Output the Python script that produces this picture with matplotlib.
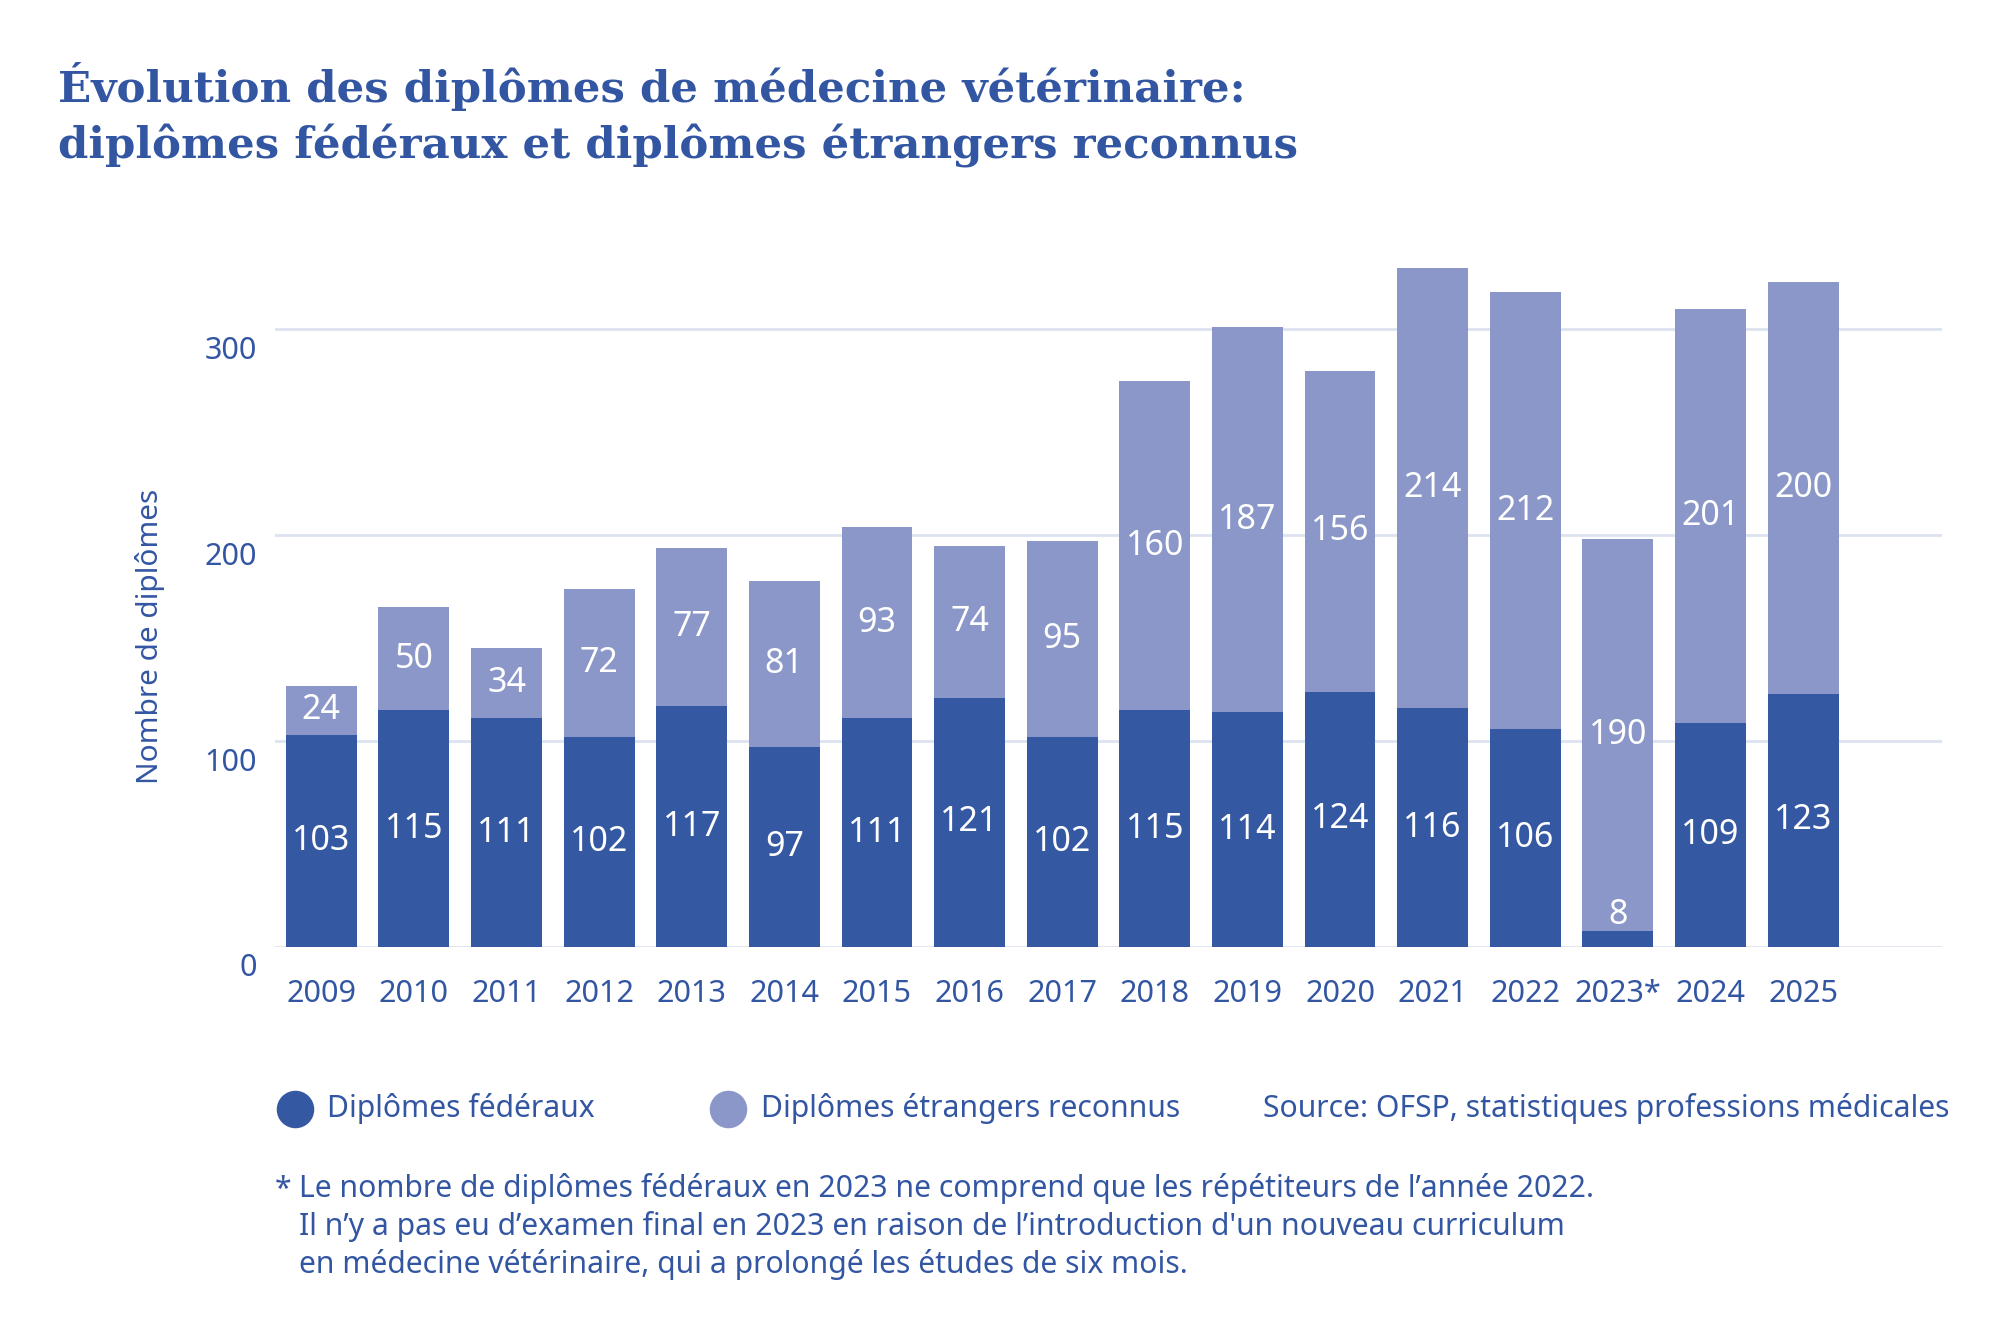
import matplotlib.pyplot as plt
from matplotlib.lines import Line2D
from matplotlib.transforms import ScaledTranslation

# données
annees = ["2009", "2010", "2011", "2012", "2013", "2014", "2015", "2016", "2017",
          "2018", "2019", "2020", "2021", "2022", "2023*", "2024", "2025"]
federaux = [103, 115, 111, 102, 117, 97, 111, 121, 102, 115, 114, 124, 116, 106, 8, 109, 123]
etrangers = [24, 50, 34, 72, 77, 81, 93, 74, 95, 160, 187, 156, 214, 212, 190, 201, 200]
yticks = [0, 100, 200, 300]

BLEU = "#3558A3"
CLAIR = "#8A97C8"
TEXTE = "#3356A3"
GRILLE = "#DCE2F0"

plt.rcParams['font.family'] = ['Noto Sans', 'DejaVu Sans']

W, H = 2008, 1333
fig = plt.figure(figsize=(W / 100, H / 100), dpi=100)
ax = fig.add_axes([275 / W, 1 - 947 / H, (1942 - 275) / W, (947 - 247) / H])

x = range(len(annees))
ax.bar(x, federaux, width=0.765, color=BLEU, zorder=2)
ax.bar(x, etrangers, width=0.765, bottom=federaux, color=CLAIR, zorder=2)

# étiquettes des valeurs
for i in x:
    f = federaux[i]
    e = etrangers[i]
    yf = f / 2 if f > 20 else f + 7.5
    ax.text(i, yf, str(f), ha='center', va='center', color='white', fontsize=24.5, zorder=3)
    ax.text(i, f + e / 2, str(e), ha='center', va='center', color='white', fontsize=24.5, zorder=3)

ax.set_xlim(-0.5, 17.5)
ax.set_ylim(0, 340)
ax.set_xticks(list(x))
ax.set_xticklabels(annees)
ax.set_yticks(yticks)
ax.set_yticklabels([str(t) for t in yticks])
ax.tick_params(axis='both', length=0, labelsize=22, labelcolor=TEXTE)
ax.tick_params(axis='x', pad=23)
ax.tick_params(axis='y', pad=13)
for lab in ax.get_yticklabels():
    lab.set_transform(lab.get_transform() + ScaledTranslation(0, -0.18, fig.dpi_scale_trans))
ax.yaxis.grid(True, color=GRILLE, linewidth=2, zorder=0)
ax.set_axisbelow(True)
for s in ax.spines.values():
    s.set_visible(False)

fig.text(150 / W, 1 - 636 / H, "Nombre de diplômes", rotation=90, ha='center', va='center',
         color=TEXTE, fontsize=21.5)

# titre
fig.text(58 / W, 1 - 102 / H, "Évolution des diplômes de médecine vétérinaire:",
         family='DejaVu Serif', weight='bold', fontsize=31.3, color=TEXTE, va='baseline')
fig.text(58 / W, 1 - 158 / H, "diplômes fédéraux et diplômes étrangers reconnus",
         family='DejaVu Serif', weight='bold', fontsize=31.3, color=TEXTE, va='baseline')

# légende
ly = 1 - 1109 / H
fig.add_artist(Line2D([295 / W], [ly], marker='o', markersize=26, color=BLEU, transform=fig.transFigure))
fig.add_artist(Line2D([728 / W], [ly], marker='o', markersize=26, color=CLAIR, transform=fig.transFigure))
fig.text(327 / W, ly, "Diplômes fédéraux", va='center', color=TEXTE, fontsize=21.7)
fig.text(761 / W, ly, "Diplômes étrangers reconnus", va='center', color=TEXTE, fontsize=21.7)
fig.text(1950 / W, ly, "Source: OFSP, statistiques professions médicales", va='center', ha='right',
         color=TEXTE, fontsize=21.7)

# note
fig.text(275 / W, 1 - 1190 / H, "*", va='center', ha='left', color=TEXTE, fontsize=21.7)
notes = ["Le nombre de diplômes fédéraux en 2023 ne comprend que les répétiteurs de l’année 2022.",
         "Il n’y a pas eu d’examen final en 2023 en raison de l’introduction d'un nouveau curriculum",
         "en médecine vétérinaire, qui a prolongé les études de six mois."]
for k, ligne in enumerate(notes):
    fig.text(299 / W, 1 - (1189 + 37.5 * k) / H, ligne, va='center', ha='left', color=TEXTE, fontsize=21.7)

fig.savefig("out.png", dpi=100, facecolor='white')
